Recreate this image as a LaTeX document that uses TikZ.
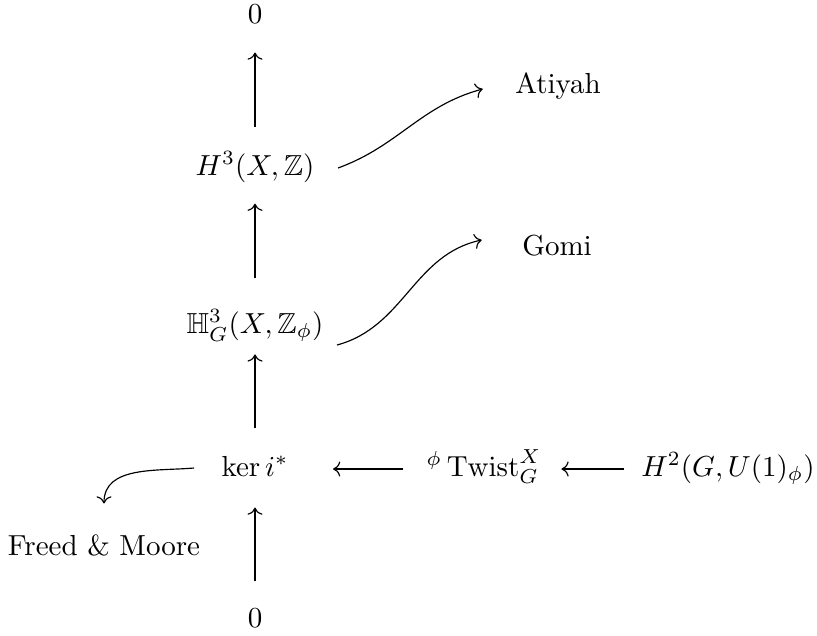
\documentclass[tikz,border=0pt]{standalone}
\usepackage{amsmath,amssymb}
\usetikzlibrary{arrows.meta, calc}

\begin{document}
\begin{tikzpicture}[
    x=0.345pt, y=0.345pt,
    >=To,
    every node/.style={inner sep=0pt, text height=8pt, text depth=3pt},
    map/.style={->},
]
\useasboundingbox (0,0) rectangle (817,635);

% main column
\node (top) at (255,619) {$0$};
\node (h3)  at (255,467) {$H^3(X,\mathbb{Z})$};
\node (hh)  at (255,309) {$\mathbb{H}^3_G(X,\mathbb{Z}_\phi)$};
\node (ker) at (255,166) {$\ker i^*$};
\node (bot) at (255,15)  {$0$};

% bottom row
\node (tw) at (484,166) {${}^\phi\operatorname{Twist}^X_G$};
\node (h2) at (728,166) {$H^2(G,U(1)_\phi)$};

% references
\node (at)   at (558,549) {Atiyah};
\node (gomi) at (557,387) {Gomi};
\node (fm)   at (104,87)  {Freed \& Moore};

\draw[map, shorten <=8.6pt, shorten >=6.9pt] (h3) -- (top);
\draw[map, shorten <=11pt, shorten >=6.6pt] (hh) -- (h3);
\draw[map, shorten <=8.3pt, shorten >=4.1pt] (ker) -- (hh);
\draw[map, shorten <=7.6pt, shorten >=7.6pt] (bot) -- (ker);

\draw[map, shorten <=7.8pt, shorten >=15.2pt] (tw) -- (ker);
\draw[map, shorten <=5.7pt, shorten >=6.7pt] (h2) -- (tw);

\draw[map] ($(h3.east)+(23,0)$) to[out=20,in=195] ($(at.west)+(-32,-3)$);
\draw[map] ($(hh.east)+(13,-19)$) to[out=15,in=192] ($(gomi.west)+(-40,8)$);
\draw[map] ($(ker.west)+(-27,1)$) to[out=185,in=90] ($(fm.north)+(0,28)$);
\end{tikzpicture}
\end{document}
